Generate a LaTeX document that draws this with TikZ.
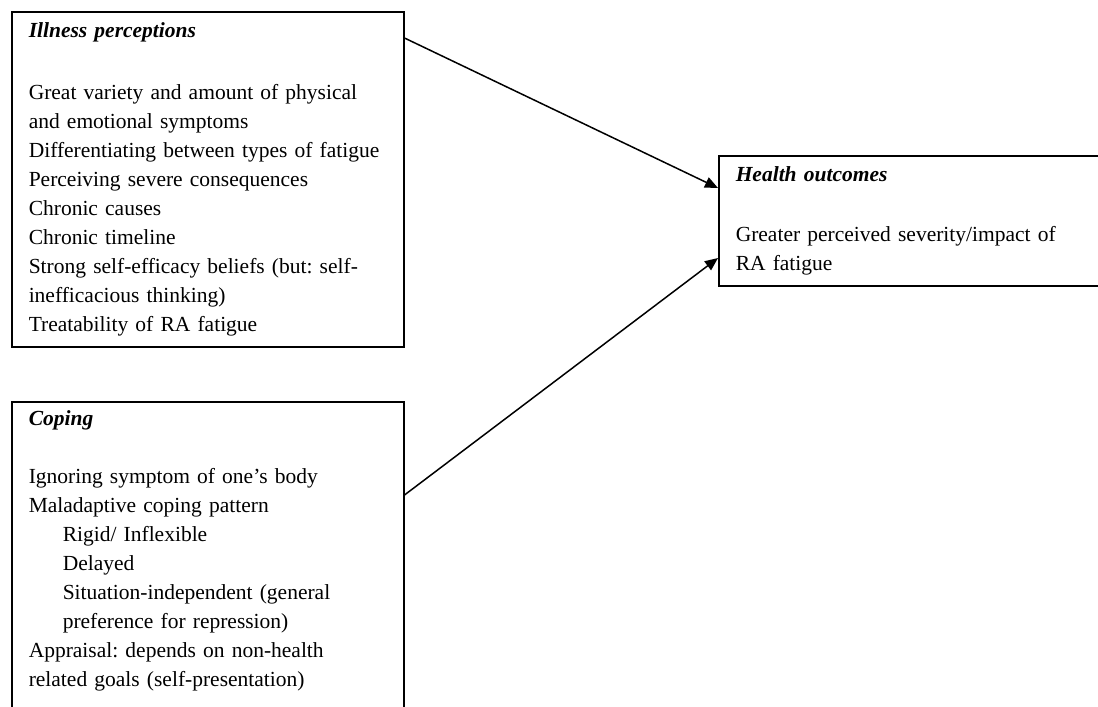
\documentclass[tikz,border=0pt]{standalone}
\usepackage{fontspec}
\setmainfont{Liberation Serif}
\usetikzlibrary{arrows.meta}
\frenchspacing

\begin{document}
\begin{tikzpicture}[x=1pt, y=-1pt,
    box/.style={draw, line width=1.5pt, anchor=north west, align=left,
      inner xsep=17pt, inner ysep=9pt, font=\fontsize{21.5}{29}\selectfont},
    link/.style={line width=1.5pt, -{Triangle[length=13pt,width=11pt]}}]
  \useasboundingbox (0,0) rectangle (1098,707);

  \node[box, text width=358pt, minimum height=335pt] (illness) at (11,11) {
    \textbf{\textit{Illness perceptions}}\\[33pt]
    Great variety and amount of physical\\
    and emotional symptoms\\
    Differentiating between types of fatigue\\
    Perceiving severe consequences\\
    Chronic causes\\
    Chronic timeline\\
    Strong self-efficacy beliefs (but: self-\\
    inefficacious thinking)\\
    Treatability of RA fatigue
  };

  \node[box, text width=358pt] (coping) at (11,401) {
    \textbf{\textit{Coping}}\\[29pt]
    Ignoring symptom of one’s body\\
    Maladaptive coping pattern\\
    \hspace*{34pt}Rigid/ Inflexible\\
    \hspace*{34pt}Delayed\\
    \hspace*{34pt}Situation-independent (general\\
    \hspace*{34pt}preference for repression)\\
    Appraisal: depends on non-health\\
    related goals (self-presentation)\rule[-40pt]{0pt}{40pt}
  };

  \node[box, text width=380pt, minimum height=130pt] (health) at (718,155) {
    \textbf{\textit{Health outcomes}}\\[31pt]
    Greater perceived severity/impact of\\
    RA fatigue
  };

  \draw[link] ([yshift=-27pt]illness.north east) -- ([yshift=-33pt]health.north west);
  \draw[link] ([yshift=-94pt]coping.north east) -- ([yshift=-103pt]health.north west);
\end{tikzpicture}
\end{document}
